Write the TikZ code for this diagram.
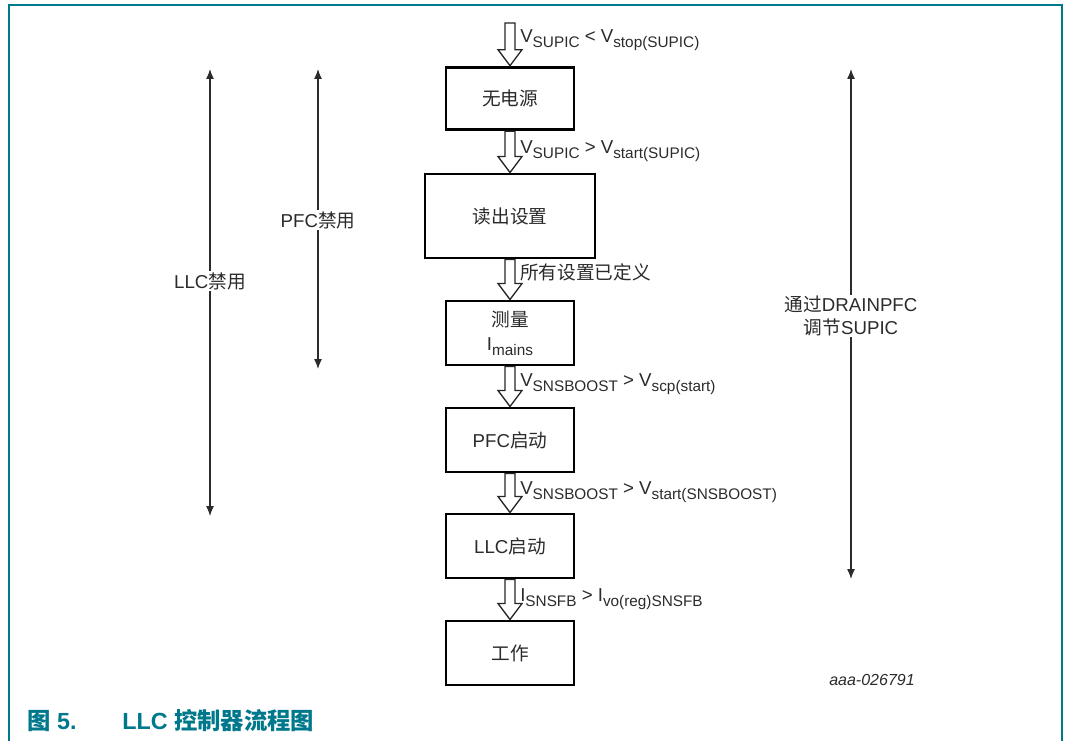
\documentclass[tikz,border=0pt]{standalone}
\usepackage{fontspec}
\setmainfont{Liberation Sans}
\newfontfamily\cjk{Noto Sans CJK SC}
\usetikzlibrary{calc,arrows.meta}
\definecolor{teal}{HTML}{00788C}
\definecolor{txt}{HTML}{2B2B2B}
\newcommand{\sbs}[1]{\raisebox{-3.6pt}{\fontsize{11.5}{11.5}\selectfont #1}}
\tikzset{
  stagebox/.style={draw=black, line width=2.2pt, fill=white, text=txt, font=\fontsize{14}{17}\selectfont, align=center, inner sep=0pt},
  harrow/.style={draw=black!85, line width=1pt, fill=white, line join=miter},
  cond/.style={anchor=west, text=txt, font=\fontsize{14}{16}\selectfont, inner sep=0pt},
  span/.style={line width=0.9pt, draw=txt, {Latex[length=7.5pt,width=6pt]}-{Latex[length=7.5pt,width=6pt]}},
  spanlbl/.style={fill=white, text=txt, font=\fontsize{14}{17}\selectfont, align=center, inner sep=1pt},
  frame/.style={draw=teal, line width=1.5pt}
}
\newcommand{\harr}[2]{%
  \draw[harrow] ($(#1)+(-5,0)$) -- ($(#2)+(-5,-16)$) -- ($(#2)+(-12,-16)$) -- (#2) -- ($(#2)+(12,-16)$) -- ($(#2)+(5,-16)$) -- ($(#1)+(5,0)$) -- cycle;}
\begin{document}
\begin{tikzpicture}[x=0.75pt,y=-0.75pt]
\useasboundingbox (0,0) rectangle (1066,741);
% frame
\draw[frame] (9,741) -- (9,5) -- (1062,5) -- (1062,741);
% boxes
\node[stagebox, minimum width=96pt, minimum height=47pt] (b1) at (510,98.5) {{\cjk 无电源}};
\node[stagebox, minimum width=127.5pt, minimum height=63pt] (b2) at (510,216) {{\cjk 读出设置}};
\node[stagebox, minimum width=96pt, minimum height=48pt] (b3) at (510,333) {{\cjk 测量}\\[1pt]I\sbs{mains}};
\node[stagebox, minimum width=96pt, minimum height=48pt] (b4) at (510,440) {PFC{\cjk 启动}};
\node[stagebox, minimum width=96pt, minimum height=48pt] (b5) at (510,546) {LLC{\cjk 启动}};
\node[stagebox, minimum width=96pt, minimum height=48pt] (b6) at (510,653) {{\cjk 工作}};
\coordinate (top) at (510,23);
% hollow arrows
\harr{top}{b1.north}
\harr{b1.south}{b2.north}
\harr{b2.south}{b3.north}
\harr{b3.south}{b4.north}
\harr{b4.south}{b5.north}
\harr{b5.south}{b6.north}
% conditions
\node[cond] (c1) at (520,40) {V\sbs{SUPIC} < V\sbs{stop(SUPIC)}};
\node[cond] (c2) at (520,151) {V\sbs{SUPIC} > V\sbs{start(SUPIC)}};
\node[cond] (c3) at (520,272) {{\cjk 所有设置已定义}};
\node[cond] (c4) at (520,384) {V\sbs{SNSBOOST} > V\sbs{scp(start)}};
\node[cond] (c5) at (520,492) {V\sbs{SNSBOOST} > V\sbs{start(SNSBOOST)}};
\node[cond] (c6) at (520,599) {I\sbs{SNSFB} > I\sbs{vo(reg)SNSFB}};
% span arrows
\coordinate (l1) at (210,69);
\coordinate (l2) at (210,516);
\coordinate (p1) at (318,69);
\coordinate (p2) at (318,369);
\coordinate (r1) at (851,69);
\coordinate (r2) at (851,579);
\draw[span] (l1) -- (l2);
\draw[span] (p1) -- (p2);
\draw[span] (r1) -- (r2);
\node[spanlbl] (ll) at (210,281) {LLC{\cjk 禁用}};
\node[spanlbl] (pl) at (318,220) {PFC{\cjk 禁用}};
\node[spanlbl] (rl) at (851,316) {{\cjk 通过}DRAINPFC\\{\cjk 调节}SUPIC};
% id
\node[text=txt, font=\fontsize{12}{14}\selectfont\itshape, inner sep=0pt] (id) at (872,680) {aaa-026791};
% caption
\node[anchor=west, text=teal, font=\fontsize{17.5}{20}\selectfont\bfseries, inner sep=0pt] (cap1) at (27,721) {{\cjk 图} 5.};
\node[anchor=west, text=teal, font=\fontsize{17.5}{20}\selectfont\bfseries, inner sep=0pt] (cap2) at (122,721) {LLC {\cjk 控制器流程图}};
\end{tikzpicture}
\end{document}
